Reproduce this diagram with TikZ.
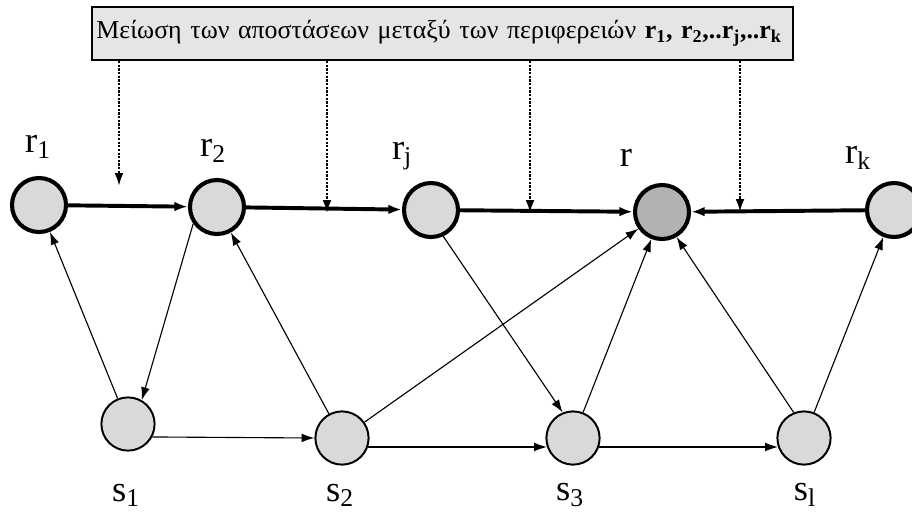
\documentclass[tikz,border=0pt]{standalone}
\usepackage{fontspec}
\setmainfont{Liberation Serif}
\usetikzlibrary{arrows.meta, positioning}

\begin{document}
\begin{tikzpicture}[x=0.025cm, y=-0.025cm,
          goalbox/.style={rectangle, draw=black, fill=black!10, line width=1.4pt, text width=17.3cm, minimum height=1.33cm, inner xsep=0.1cm, inner ysep=0pt, align=left, font=\fontsize{18.4}{20}\selectfont},
          region/.style={circle, draw=black, fill=black!15, line width=2.9pt, minimum size=1.35cm, inner sep=0pt},
          site/.style={circle, draw=black, fill=black!15, line width=1.4pt, minimum size=1.33cm, inner sep=0pt},
          tag/.style={inner sep=0pt, font=\fontsize{26}{28}\selectfont},
          heavy/.style={-{Latex[length=3.4mm,width=2.4mm]}, line width=2.8pt},
          light/.style={-{Latex[length=3.2mm,width=2.2mm]}, line width=0.8pt},
          dots/.style={-{Latex[length=3.2mm,width=2.2mm]}, line width=1.6pt, densely dotted}]

        \useasboundingbox (0,0) rectangle (912,515);

        \node [goalbox] (goal) at (442.5,33.5) {Μείωση των αποστάσεων μεταξύ των περιφερειών \textbf{r\textsubscript{1}, r\textsubscript{2},..r\textsubscript{j},..r\textsubscript{k}}};

        \node [region] (r1) at (39,205) {};
        \node [region] (r2) at (217,207) {};
        \node [region] (rj) at (431,210) {};
        \node [region, fill=black!30] (r) at (662,212) {};
        \node [region] (rk) at (894,210) {};

        \node [site] (s1) at (128,424) {};
        \node [site] (s2) at (342,438) {};
        \node [site] (s3) at (573,438) {};
        \node [site] (sl) at (804,438) {};

        \node [tag] (t-r1) at (38,147) {r\textsubscript{1}};
        \node [tag] (t-r2) at (213,151) {r\textsubscript{2}};
        \node [tag] (t-rj) at (402,156) {r\textsubscript{j}};
        \node [tag] (t-r) at (626,158) {r};
        \node [tag] (t-rk) at (858,158) {r\textsubscript{k}};
        \node [tag] (t-s1) at (126,495) {s\textsubscript{1}};
        \node [tag] (t-s2) at (340,495) {s\textsubscript{2}};
        \node [tag] (t-s3) at (570,495) {s\textsubscript{3}};
        \node [tag] (t-sl) at (805,495) {s\textsubscript{l}};

        \coordinate (d1) at (119,186);
        \coordinate (d2) at (327,213);
        \coordinate (d3) at (530,213);
        \coordinate (d4) at (740,212);

        \draw [dots] (goal.south -| d1) -- (d1);
        \draw [dots] (goal.south -| d2) -- (d2);
        \draw [dots] (goal.south -| d3) -- (d3);
        \draw [dots] (goal.south -| d4) -- (d4);

        \draw [heavy] (r1) -- (r2);
        \draw [heavy] (r2) -- (rj);
        \draw [heavy] (rj) -- (r);
        \draw [heavy] (rk) -- (r);

        \draw [light] (s1) -- (r1);
        \draw [light] (r2.215) -- (s1.60);
        \draw [light] (s2) -- (r2);
        \draw [light] (s2) -- (r);
        \draw [light] (rj.-65) -- (s3.112);
        \draw [light] (s3) -- (r);
        \draw [light] (sl.112) -- (r.300);
        \draw [light] (sl) -- (rk);
        \draw [light] (s1.-28) -- (s2.west);
        \draw [light] (s2.-19) -- (s3.199);
        \draw [light] (s3.-19) -- (sl.199);
      \end{tikzpicture}
\end{document}
